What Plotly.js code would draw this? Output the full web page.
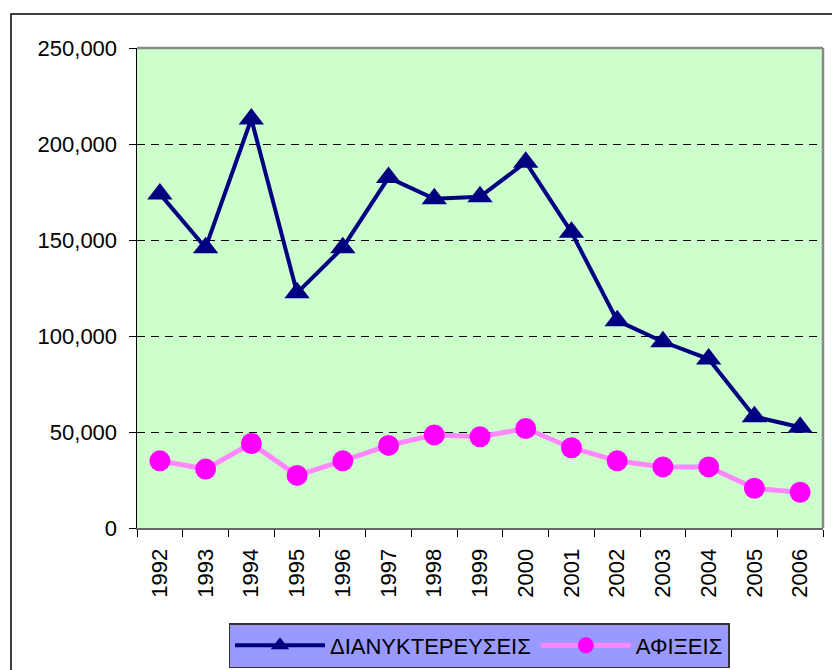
<!DOCTYPE html>
<html>
<head>
<meta charset="utf-8">
<script src="https://cdn.plot.ly/plotly-3.0.1.min.js"></script>
<style>
html,body{margin:0;padding:0;background:#fff;}
#chart{width:832px;height:670px;}
</style>
</head>
<body>
<div id="chart"></div>
<script>
const years = ["1992","1993","1994","1995","1996","1997","1998","1999","2000","2001","2002","2003","2004","2005","2006"];
const overnightStays = [174000,146000,213000,122500,146000,182500,171500,172500,190500,154000,108000,97000,88000,58000,52500];
const arrivals = [35000,30700,44000,27400,35000,43000,48500,47500,51800,41800,35000,31800,31800,20700,18600];
const seriesNames = ["ΔΙΑΝΥΚΤΕΡΕΥΣΕΙΣ","ΑΦΙΞΕΙΣ"];
const yTicks = [0,50000,100000,150000,200000,250000];

const W = 832, H = 670;
const L = 137, R = 9, T = 48, B = 142;
const pw = W - L - R, ph = H - T - B;
const px = v => (v - L) / pw;
const py = v => (H - B - v) / ph;

const traces = [
  {
    x: years, y: overnightStays, name: seriesNames[0], type: 'scatter', mode: 'lines+markers',
    line: {color: '#000080', width: 4},
    marker: {symbol: 'triangle-up', size: 22, color: '#000080'}
  },
  {
    x: years, y: arrivals, name: seriesNames[1], type: 'scatter', mode: 'lines+markers',
    line: {color: '#FF88FF', width: 5},
    marker: {symbol: 'circle', size: 21, color: '#FF00FF'}
  }
];

const layout = {
  width: W, height: H,
  margin: {l: L, r: R, t: T, b: B, pad: 0},
  paper_bgcolor: '#FFFFFF',
  plot_bgcolor: '#CCFFCC',
  font: {family: '"Liberation Sans", Arial, sans-serif', color: '#000', size: 20},
  showlegend: true,
  xaxis: {
    type: 'category',
    tickvals: years, ticktext: years,
    tickangle: -90,
    tickfont: {size: 22, family: '"Liberation Sans", Arial, sans-serif'},
    ticks: 'outside', ticklen: 7, tickcolor: '#000', tickwidth: 1,
    tickson: 'boundaries',
    ticklabelstandoff: 10,
    showgrid: false, zeroline: false,
    showline: true, linecolor: '#666666', linewidth: 2,
    range: [-0.5, years.length - 0.5],
    automargin: false,
    fixedrange: true
  },
  yaxis: {
    range: [0, 250000],
    tickvals: yTicks,
    tickformat: ',d',
    tickfont: {size: 22, family: '"Liberation Sans", Arial, sans-serif'},
    ticks: 'outside', ticklen: 7, tickcolor: '#000', tickwidth: 1,
    ticklabelstandoff: 7,
    showgrid: true, gridcolor: '#000000', gridwidth: 1, griddash: '8px,6px',
    zeroline: false,
    showline: true, linecolor: '#000000', linewidth: 1.5,
    automargin: false,
    fixedrange: true
  },
  legend: {
    orientation: 'h',
    xref: 'container', yref: 'container',
    x: 479 / W, xanchor: 'center',
    y: (H - 623) / H, yanchor: 'top',
    bgcolor: '#9999FF',
    bordercolor: '#333333', borderwidth: 1.5,
    font: {size: 22, family: '"Liberation Sans", Arial, sans-serif', color: '#000'},
    itemwidth: 90,
    traceorder: 'normal'
  },
  shapes: [
    {type: 'line', xref: 'paper', yref: 'paper', x0: 0, x1: 1, y0: 1, y1: 1, line: {color: '#888888', width: 2.5}},
    {type: 'line', xref: 'paper', yref: 'paper', x0: 1, x1: 1, y0: 0, y1: 1, line: {color: '#888888', width: 2.5}},
    {type: 'rect', xref: 'paper', yref: 'paper', x0: px(11), x1: px(845), y0: py(690), y1: py(14), line: {color: '#000000', width: 1.5}, layer: 'below'}
  ]
};

Plotly.newPlot('chart', traces, layout, {displayModeBar: false, staticPlot: true});
</script>
</body>
</html>
